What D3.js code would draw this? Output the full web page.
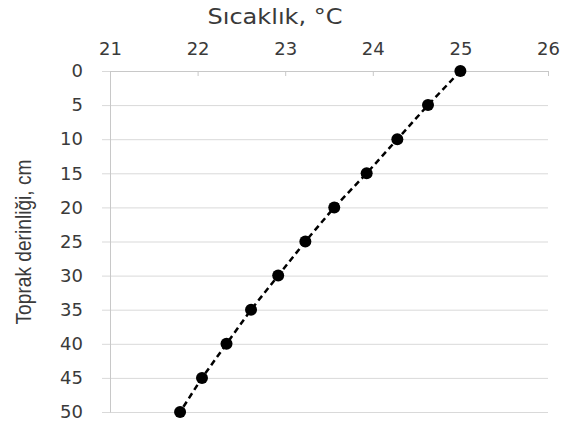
<!DOCTYPE html>
<html lang="tr">
<head>
  <meta charset="UTF-8">
  <title>Sıcaklık - Toprak derinliği</title>
  <script src="https://d3js.org/d3.v7.min.js"></script>
  <style>
    body { margin: 0; background: #fff; font-family: "DejaVu Sans", sans-serif; }
    .tick text { font-size: 18px; fill: #3a3a3a; font-family: "DejaVu Sans", sans-serif; }
  </style>
</head>
<body>
  <svg width="562" height="424"></svg>

  <script>
    const depths = [0, 5, 10, 15, 20, 25, 30, 35, 40, 45, 50];
    const temps = [25.0, 24.63, 24.28, 23.93, 23.56, 23.23, 22.92, 22.61, 22.33, 22.05, 21.8];
    const xTicks = [21, 22, 23, 24, 25, 26];
    const yTicks = [0, 5, 10, 15, 20, 25, 30, 35, 40, 45, 50];

    const data = depths.map((d, i) => ({ depth: d, temp: temps[i] }));

    const svg = d3.select("svg");
    const margin = { top: 71, right: 14, bottom: 12, left: 110 };
    const width = 562, height = 424;

    const x = d3.scaleLinear().domain([21, 26]).range([margin.left, width - margin.right]);
    const y = d3.scaleLinear().domain([0, 50]).range([margin.top, height - margin.bottom]);

    // horizontal gridlines (they stick out left as ticks)
    svg.append("g")
      .attr("transform", `translate(${margin.left},0)`)
      .call(d3.axisLeft(y).tickValues(yTicks).tickSize(-(x(26) - x(21))).tickFormat(""))
      .call(g => g.select(".domain").remove())
      .call(g => g.selectAll(".tick line").attr("x1", -8).attr("stroke", "#d9d9d9"));

    // left axis + labels
    svg.append("g")
      .attr("transform", `translate(${margin.left},0)`)
      .call(d3.axisLeft(y).tickValues(yTicks).tickSize(0).tickPadding(27))
      .call(g => g.select(".domain").attr("stroke", "#c8c8c8"));

    // top axis
    svg.append("g")
      .attr("transform", `translate(0,${margin.top})`)
      .call(d3.axisTop(x).tickValues(xTicks).tickSize(-5).tickPadding(16).tickSizeOuter(0).tickFormat(d3.format("d")))
      .call(g => g.select(".domain").attr("stroke", "#c8c8c8"))
      .call(g => g.selectAll(".tick line").attr("stroke", "#c8c8c8"));

    // dashed line
    const line = d3.line().x(d => x(d.temp)).y(d => y(d.depth));
    svg.append("path")
      .datum(data)
      .attr("d", line)
      .attr("fill", "none")
      .attr("stroke", "#000")
      .attr("stroke-width", 2.5)
      .attr("stroke-dasharray", "6,4");

    svg.selectAll(".pt")
      .data(data)
      .enter()
      .append("circle")
        .attr("class", "pt")
        .attr("cx", d => x(d.temp))
        .attr("cy", d => y(d.depth))
        .attr("r", 6)
        .attr("fill", "#000");

    // titles
    svg.append("text")
      .attr("x", 275)
      .attr("y", 24)
      .attr("text-anchor", "middle")
      .attr("font-size", 21)
      .attr("textLength", 135)
      .attr("lengthAdjust", "spacingAndGlyphs")
      .attr("fill", "#3a3a3a")
      .text("Sıcaklık, °C");

    svg.append("text")
      .attr("transform", `translate(31,242) rotate(-90)`)
      .attr("text-anchor", "middle")
      .attr("font-family", "'Liberation Sans Narrow', 'Liberation Sans', sans-serif")
      .attr("font-size", 22)
      .attr("textLength", 165)
      .attr("lengthAdjust", "spacingAndGlyphs")
      .attr("fill", "#3a3a3a")
      .text("Toprak derinliği, cm");
  </script>
</body>
</html>
